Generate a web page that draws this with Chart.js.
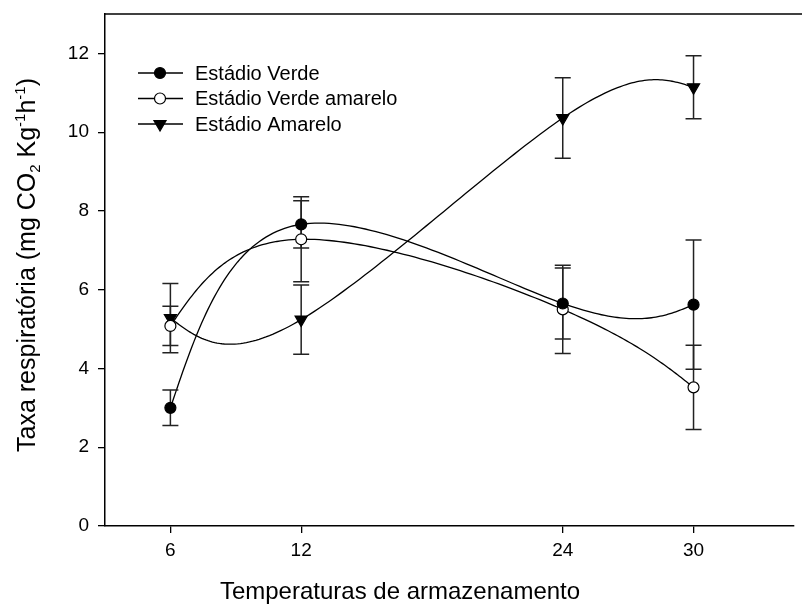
<!DOCTYPE html>
<html>
<head>
<meta charset="utf-8">
<script src="https://cdn.jsdelivr.net/npm/chart.js@4/dist/chart.umd.min.js"></script>
<style>
  html, body { margin: 0; padding: 0; background: #fff; overflow: hidden; }
  #wrap { width: 802px; height: 607px; }
</style>
</head>
<body>
<div id="wrap"><canvas id="chart"></canvas></div>
<script>
/// data ///
const temps = [6, 12, 24, 30]
const xTicks = [6, 12, 24, 30]
const yTicks = [0, 2, 4, 6, 8, 10, 12]

const verde = [3.0, 7.66, 5.65, 5.62]
const verdeErr = [0.45, 0.6, 0.9, 1.64]
const verdeAmarelo = [5.08, 7.28, 5.5, 3.52]
const verdeAmareloErr = [0.5, 1.08, 1.12, 1.07]
const amarelo = [5.28, 5.24, 10.36, 11.14]
const amareloErr = [0.88, 0.88, 1.02, 0.8]

const labels = ['Estádio Verde', 'Estádio Verde amarelo', 'Estádio Amarelo']
const FONT = '"Liberation Sans", Arial, Helvetica, sans-serif'

function pts(vals) {
  return temps.map((t, i) => ({ x: t, y: vals[i] }))
}

/// natural cubic spline, uniform parameter (second derivatives) ///
function splineM(y) {
  const n = y.length
  const M = new Array(n).fill(0)
  const a = [], b = [], c = [], d = []
  for (let i = 1; i < n - 1; i++) {
    a.push(1); b.push(4); c.push(1)
    d.push(6 * (y[i + 1] - 2 * y[i] + y[i - 1]))
  }
  const m = b.length
  for (let i = 1; i < m; i++) {
    const w = a[i] / b[i - 1]
    b[i] -= w * c[i - 1]
    d[i] -= w * d[i - 1]
  }
  const sol = new Array(m)
  sol[m - 1] = d[m - 1] / b[m - 1]
  for (let i = m - 2; i >= 0; i--) sol[i] = (d[i] - c[i] * sol[i + 1]) / b[i]
  for (let i = 0; i < m; i++) M[i + 1] = sol[i]
  return M
}

function evalSeg(v, M, i, s) {
  const A = 1 - s, B = s
  return M[i] * (A * A * A - A) / 6 + M[i + 1] * (B * B * B - B) / 6 + v[i] * A + v[i + 1] * B
}

const curvePlugin = {
  id: 'curves',
  beforeDatasetsDraw(chart) {
    const ctx = chart.ctx
    const xs = chart.scales.x, ys = chart.scales.y
    chart.data.datasets.forEach(ds => {
      const px = ds.data.map(p => xs.getPixelForValue(p.x))
      const py = ds.data.map(p => ys.getPixelForValue(p.y))
      const Mx = splineM(px), My = splineM(py)
      ctx.save()
      ctx.strokeStyle = '#000'
      ctx.lineWidth = 1.3
      ctx.beginPath()
      ctx.moveTo(px[0], py[0])
      for (let i = 0; i < px.length - 1; i++) {
        for (let k = 1; k <= 50; k++) {
          const s = k / 50
          ctx.lineTo(evalSeg(px, Mx, i, s), evalSeg(py, My, i, s))
        }
      }
      ctx.stroke()
      ctx.restore()
    })
    // error bars
    chart.data.datasets.forEach(ds => {
      ctx.save()
      ctx.strokeStyle = '#222'
      ctx.lineWidth = 1.5
      ds.data.forEach((p, i) => {
        const x = xs.getPixelForValue(p.x)
        const top = ys.getPixelForValue(p.y + ds.errors[i])
        const bot = ys.getPixelForValue(p.y - ds.errors[i])
        ctx.beginPath()
        ctx.moveTo(x, top); ctx.lineTo(x, bot)
        ctx.moveTo(x - 8, top); ctx.lineTo(x + 8, top)
        ctx.moveTo(x - 8, bot); ctx.lineTo(x + 8, bot)
        ctx.stroke()
      })
      ctx.restore()
    })
  },
  afterDraw(chart) {
    const ctx = chart.ctx
    const area = chart.chartArea
    ctx.save()
    // top frame line
    ctx.strokeStyle = '#000'
    ctx.lineWidth = 1.5
    ctx.beginPath()
    ctx.moveTo(area.left, area.top)
    ctx.lineTo(chart.width, area.top)
    ctx.stroke()

    // legend
    const rows = [73, 98.5, 124]
    chart.data.datasets.forEach((ds, i) => {
      const y = rows[i]
      ctx.strokeStyle = '#000'
      ctx.lineWidth = 1.3
      ctx.beginPath()
      ctx.moveTo(138, y); ctx.lineTo(183, y)
      ctx.stroke()
      ctx.fillStyle = ds.pointBackgroundColor
      ctx.strokeStyle = '#000'
      ctx.lineWidth = 1.2
      Chart.helpers.drawPoint(ctx, {
        pointStyle: ds.pointStyle, radius: ds.pointRadius,
        rotation: ds.pointRotation || 0, borderWidth: 1.2
      }, 160, y)
      ctx.fillStyle = '#000'
      ctx.font = '20px ' + FONT
      ctx.textBaseline = 'middle'
      ctx.textAlign = 'left'
      ctx.fillText(ds.label, 195, y + 1)
    })

    // x title
    ctx.fillStyle = '#000'
    ctx.font = '24px ' + FONT
    ctx.textAlign = 'center'
    ctx.textBaseline = 'middle'
    ctx.fillText('Temperaturas de armazenamento', 400, 592)

    // y title with sub/superscripts
    const parts = [
      { t: 'Taxa respiratória (mg CO', s: 0 },
      { t: '2', s: 1 },
      { t: ' Kg', s: 0 },
      { t: '-1', s: -1 },
      { t: 'h', s: 0 },
      { t: '-1', s: -1 },
      { t: ')', s: 0 }
    ]
    const big = '25px ' + FONT, small = '15px ' + FONT
    let total = 0
    parts.forEach(p => { ctx.font = p.s ? small : big; p.w = ctx.measureText(p.t).width; total += p.w })
    ctx.translate(27, 265)
    ctx.rotate(-Math.PI / 2)
    ctx.textAlign = 'left'
    ctx.textBaseline = 'alphabetic'
    let x = -total / 2
    parts.forEach(p => {
      ctx.font = p.s ? small : big
      const dy = p.s === 1 ? 5 : (p.s === -1 ? -10 : 0)
      ctx.fillText(p.t, x, 8 + dy)
      x += p.w
    })
    ctx.restore()
  }
}

const ctx = document.getElementById('chart').getContext('2d')
const myChart = new Chart(ctx, {
  type: 'scatter',
  data: {
    datasets: [
      {
        label: labels[0], data: pts(verde), errors: verdeErr,
        pointStyle: 'circle', pointRadius: 5.5,
        pointBackgroundColor: '#000', pointBorderColor: '#000', pointBorderWidth: 1.2,
        showLine: false
      },
      {
        label: labels[1], data: pts(verdeAmarelo), errors: verdeAmareloErr,
        pointStyle: 'circle', pointRadius: 5.5,
        pointBackgroundColor: '#fff', pointBorderColor: '#000', pointBorderWidth: 1.2,
        showLine: false
      },
      {
        label: labels[2], data: pts(amarelo), errors: amareloErr,
        pointStyle: 'triangle', pointRadius: 7, pointRotation: 180,
        pointBackgroundColor: '#000', pointBorderColor: '#000', pointBorderWidth: 1.2,
        showLine: false
      }
    ]
  },
  options: {
    responsive: true,
    maintainAspectRatio: false,
    animation: false,
    layout: { padding: { top: 14, right: 0, left: 0, bottom: 0 } },
    plugins: { legend: { display: false }, tooltip: { enabled: false } },
    scales: {
      x: {
        type: 'linear', min: 3, max: 34.6,
        afterBuildTicks: s => { s.ticks = xTicks.map(v => ({ value: v })) },
        afterFit: s => { s.height = 81; s.paddingLeft = 0; s.paddingRight = 0 },
        grid: { drawOnChartArea: false, drawTicks: true, tickLength: 7, color: '#000', lineWidth: 1.3 },
        border: { color: '#000', width: 1.5 },
        ticks: { color: '#000', font: { size: 19, family: FONT }, padding: 6, maxRotation: 0 }
      },
      y: {
        type: 'linear', min: 0, max: 13,
        afterBuildTicks: s => { s.ticks = yTicks.map(v => ({ value: v })) },
        afterFit: s => { s.width = 105; s.paddingTop = 0; s.paddingBottom = 0 },
        grid: { drawOnChartArea: false, drawTicks: true, tickLength: 7, color: '#000', lineWidth: 1.3 },
        border: { color: '#000', width: 1.5 },
        ticks: { color: '#000', font: { size: 19, family: FONT }, padding: 9 }
      }
    }
  },
  plugins: [curvePlugin]
})
</script>
</body>
</html>
